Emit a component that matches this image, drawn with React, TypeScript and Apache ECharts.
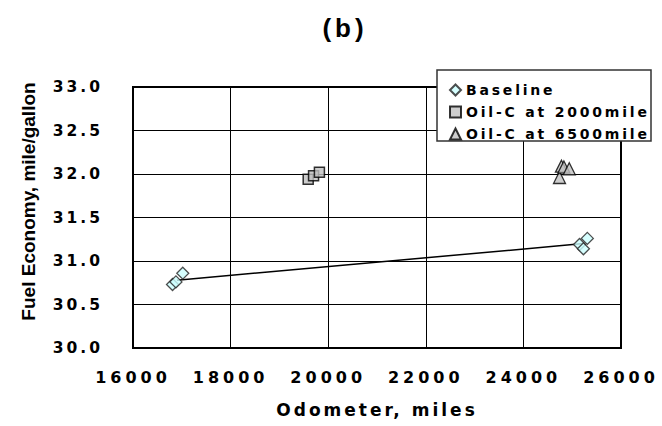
import React, { useEffect, useRef } from "react";
import * as echarts from "echarts";

const titleText = "(b)";
const xAxisName = "Odometer, miles";
const yAxisName = "Fuel Economy, mile/gallon";
const seriesNames = ["Baseline", "Oil-C at 2000mile", "Oil-C at 6500mile"];

const baselineX = [16810, 16880, 17020, 25150, 25230, 25310];
const baselineY = [30.73, 30.76, 30.86, 31.19, 31.14, 31.26];
const oil2000X = [19590, 19700, 19820];
const oil2000Y = [31.94, 31.98, 32.02];
const oil6500X = [24740, 24780, 24830, 24940];
const oil6500Y = [31.96, 32.09, 32.08, 32.06];
const trendX = [16900, 25230];
const trendY = [30.78, 31.2];

const xMin = 16000;
const xMax = 26000;
const xStep = 2000;
const yMin = 30;
const yMax = 33;
const yStep = 0.5;

const zip = (xs: number[], ys: number[]) => xs.map((x, i) => [x, ys[i]]);

const css = `
body { margin: 0; }
#chart text { letter-spacing: 0px; }
#chart text[style*="26px"] { letter-spacing: 4px; }
#chart text[style*="16px"] { letter-spacing: 4px; }
#chart text[style*="15.5px"] { letter-spacing: 3px; }
#chart text[style*="14px"] { letter-spacing: 2.8px; }
#chart text[style*="17px"] { letter-spacing: 3px; }
#chart text[style*="19px"] { letter-spacing: 0px; }
`;

export default function App() {
  const ref = useRef<HTMLDivElement>(null);
  useEffect(() => {
    if (!ref.current) return;
    const chart = echarts.init(ref.current, null, { renderer: "svg" });
    const lab = {
      fontFamily: "DejaVu Sans",
      fontWeight: "bold" as const,
      color: "#000",
    };
    chart.setOption({
      animation: false,
      backgroundColor: "#fff",
      title: {
        text: titleText,
        left: 340,
        top: 10,
        textAlign: "center",
        textStyle: {
          fontFamily: "Liberation Sans",
          fontWeight: "bold",
          fontSize: 26,
          color: "#000",
        },
      },
      grid: {
        left: 133,
        right: 41,
        top: 87,
        bottom: 78,
        show: true,
        borderColor: "#000",
        borderWidth: 2,
        backgroundColor: "#fff",
      },
      legend: {
        data: seriesNames,
        orient: "vertical",
        left: 444,
        top: 78,
        itemWidth: 11,
        itemHeight: 11,
        itemGap: 8,
        z: 6,
        textStyle: { ...lab, fontSize: 14 },
      },
      graphic: [
        {
          type: "rect",
          z: 5,
          shape: { x: 437, y: 70, width: 214, height: 71 },
          style: { fill: "#fff", stroke: "#333", lineWidth: 1.5 },
        },
      ],
      xAxis: {
        type: "value",
        min: xMin,
        max: xMax,
        interval: xStep,
        name: xAxisName,
        nameLocation: "middle",
        nameGap: 53,
        nameTextStyle: { ...lab, fontSize: 17 },
        axisLine: { show: true, lineStyle: { color: "#000", width: 2 } },
        axisTick: { show: false },
        axisLabel: {
          ...lab,
          fontSize: 16,
          margin: 21,
          formatter: (v: number) => String(v),
        },
        splitLine: { show: true, lineStyle: { color: "#000", width: 1 } },
      },
      yAxis: {
        type: "value",
        min: yMin,
        max: yMax,
        interval: yStep,
        name: yAxisName,
        nameLocation: "middle",
        nameGap: 95,
        nameTextStyle: {
          fontFamily: "Liberation Sans",
          fontWeight: "bold",
          fontSize: 19,
          color: "#000",
          padding: [0, 0, 0, 32],
        },
        axisLine: { show: true, lineStyle: { color: "#000", width: 2 } },
        axisTick: { show: false },
        axisLabel: {
          ...lab,
          fontSize: 15.5,
          margin: 30,
          padding: [6, 0, 0, 0],
          formatter: (v: number) => v.toFixed(1),
        },
        splitLine: { show: true, lineStyle: { color: "#000", width: 1 } },
      },
      series: [
        {
          name: "trend",
          type: "line",
          data: zip(trendX, trendY),
          showSymbol: false,
          symbol: "none",
          lineStyle: { color: "#000", width: 1.5 },
          z: 2,
        },
        {
          name: seriesNames[0],
          type: "scatter",
          data: zip(baselineX, baselineY),
          symbol: "diamond",
          symbolSize: 12,
          itemStyle: { color: "#ccffff", borderColor: "#222", borderWidth: 1.3 },
          z: 3,
        },
        {
          name: seriesNames[1],
          type: "scatter",
          data: zip(oil2000X, oil2000Y),
          symbol: "rect",
          symbolSize: 10,
          itemStyle: { color: "#c0c0c0", borderColor: "#000", borderWidth: 1.5 },
          z: 3,
        },
        {
          name: seriesNames[2],
          type: "scatter",
          data: zip(oil6500X, oil6500Y),
          symbol: "triangle",
          symbolSize: 12,
          itemStyle: { color: "#c0c0c0", borderColor: "#000", borderWidth: 1.3 },
          z: 3,
        },
      ],
    });
    return () => chart.dispose();
  }, []);
  return (
    <>
      <style>{css}</style>
      <div
        id="chart"
        ref={ref}
        style={{ position: "absolute", left: 0, top: 0, width: 662, height: 426 }}
      />
    </>
  );
}
